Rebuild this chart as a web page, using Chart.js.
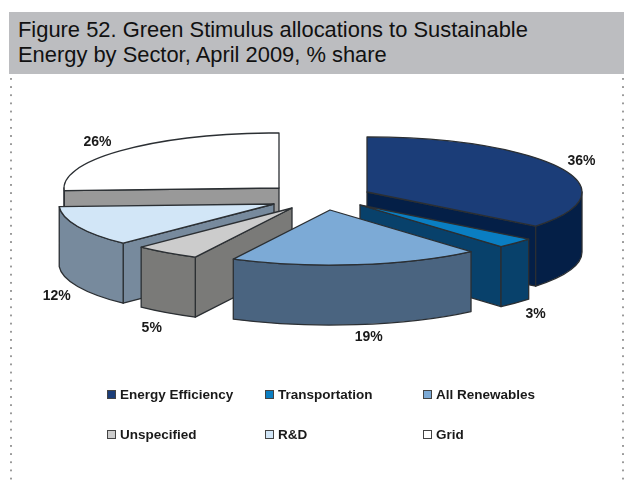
<!DOCTYPE html>
<html>
<head>
<meta charset="utf-8">
<script src="https://cdn.jsdelivr.net/npm/chart.js@4"></script>
<style>
  html, body { margin: 0; padding: 0; background: #fff; width: 624px; height: 482px; overflow: hidden; }
  #title { position: absolute; left: 9px; top: 12px; width: 615px; height: 62px; background: #bcbdc0;
    font: 21.9px/25px "Liberation Sans", Arial, sans-serif; color: #111; box-sizing: border-box; padding: 5px 0 0 9px; white-space: nowrap; }
  .dots { position: absolute; top: 78px; bottom: 0; width: 2px;
    background-image: radial-gradient(circle at 1px 1px, #9a9a9a 1px, transparent 1.1px); background-size: 2px 8.17px; }
  canvas { position: absolute; left: 0; top: 0; }
  .legend { position: absolute; font: bold 13.5px "Liberation Sans", Arial, sans-serif; color: #1a1a1a; white-space: nowrap; line-height: 16px; }
  .legend i { position: absolute; left: -13px; top: 3px; width: 7px; height: 7px; border: 1px solid #444; }
</style>
</head>
<body>
<div id="title">Figure 52. Green Stimulus allocations to Sustainable<br>Energy by Sector, April 2009, % share</div>
<div class="dots" style="left:10px"></div>
<div class="dots" style="left:622px"></div>
<canvas id="chart" width="624" height="482"></canvas>
<script>
var sectors = ['Energy Efficiency', 'Transportation', 'All Renewables', 'Unspecified', 'R&D', 'Grid'];
var shares = [36, 3, 19, 5, 12, 26];

var topColors = ['#1b3d78', '#0a7ec2', '#7caad6', '#cccccc', '#d2e6f7', '#ffffff'];
var sideColors = ['#041f47', '#08416b', '#4a6480', '#7a7a78', '#778a9d', '#999999'];

// 3d look: squash of the pie, wall height, how far each slice is pulled out, back to front order
var squash = 0.256;
var depth = 60;
var explode = [[47, -4], [40, 9], [10, 14], [-28, 12], [-46, 8], [-41, -8]];
var drawOrder = [5, 0, 4, 1, 3, 2];
var labelNudge = [[21, -7], [20, 71], [12, 73], [-15, 75], [-21, 70], [-26, -8]];

// legend slots, 3 columns by 2 rows
var legendX = [120, 278, 436];
var legendY = [387, 427];
sectors.forEach(function(name, i) {
  var el = document.createElement('div');
  el.className = 'legend';
  el.textContent = name;
  el.style.left = legendX[i % 3] + 'px';
  el.style.top = legendY[Math.floor(i / 3)] + 'px';
  var box = document.createElement('i');
  box.style.background = topColors[i];
  el.appendChild(box);
  document.body.appendChild(el);
});

var pie3d = {
  id: 'pie3d',
  beforeDatasetDraw: function(chart) {
    var ctx = chart.ctx;
    var arcs = chart.getDatasetMeta(0).data;

    drawOrder.forEach(function(i) {
      var arc = arcs[i];
      var x = arc.x + explode[i][0];
      var y = arc.y + explode[i][1];
      var r = arc.outerRadius;
      var ry = r * squash;
      var a0 = arc.startAngle;
      var a1 = arc.endAngle;

      ctx.save();
      ctx.lineJoin = 'round';
      ctx.strokeStyle = '#2b2f33';
      ctx.lineWidth = 1.3;
      ctx.fillStyle = sideColors[i];

      // flat walls from the apex out to the rim, skip the ones facing away
      [a0, a1].forEach(function(a, n) {
        var facing = n === 0 ? Math.cos(a) < 0 : Math.cos(a) > 0;
        if (!facing) return;
        var px = x + Math.cos(a) * r;
        var py = y + Math.sin(a) * ry;
        ctx.beginPath();
        ctx.moveTo(x, y);
        ctx.lineTo(px, py);
        ctx.lineTo(px, py + depth);
        ctx.lineTo(x, y + depth);
        ctx.closePath();
        ctx.fill();
        ctx.stroke();
      });

      // rim wall, only the part facing the viewer
      var from = Math.max(a0, 0);
      var to = Math.min(a1, Math.PI);
      if (to > from) {
        ctx.beginPath();
        ctx.ellipse(x, y, r, ry, 0, from, to);
        ctx.ellipse(x, y + depth, r, ry, 0, to, from, true);
        ctx.closePath();
        ctx.fill();
        ctx.stroke();
      }

      // top face is the chart's own arc, flattened
      ctx.save();
      ctx.translate(explode[i][0], y - arc.y * squash);
      ctx.scale(1, squash);
      arc.draw(ctx);
      ctx.restore();

      ctx.beginPath();
      ctx.moveTo(x, y);
      ctx.ellipse(x, y, r, ry, 0, a0, a1);
      ctx.closePath();
      ctx.stroke();
      ctx.restore();
    });

    ctx.save();
    ctx.font = 'bold 14px "Liberation Sans", Arial, sans-serif';
    ctx.fillStyle = '#1a1a1a';
    ctx.textAlign = 'center';
    ctx.textBaseline = 'middle';
    arcs.forEach(function(arc, i) {
      var mid = (arc.startAngle + arc.endAngle) / 2;
      var lx = arc.x + explode[i][0] + Math.cos(mid) * arc.outerRadius + labelNudge[i][0];
      var ly = arc.y + explode[i][1] + Math.sin(mid) * arc.outerRadius * squash + labelNudge[i][1];
      ctx.fillText(shares[i] + '%', lx, ly);
    });
    ctx.restore();
    return false;
  }
};

new Chart(document.getElementById('chart').getContext('2d'), {
  type: 'pie',
  data: {
    labels: sectors,
    datasets: [{
      data: shares,
      backgroundColor: topColors,
      borderWidth: 0,
      radius: 215
    }]
  },
  options: {
    responsive: false,
    animation: false,
    layout: { padding: { left: 16, bottom: 90 } },
    plugins: { legend: { display: false }, tooltip: { enabled: false } }
  },
  plugins: [pie3d]
});
</script>
</body>
</html>
